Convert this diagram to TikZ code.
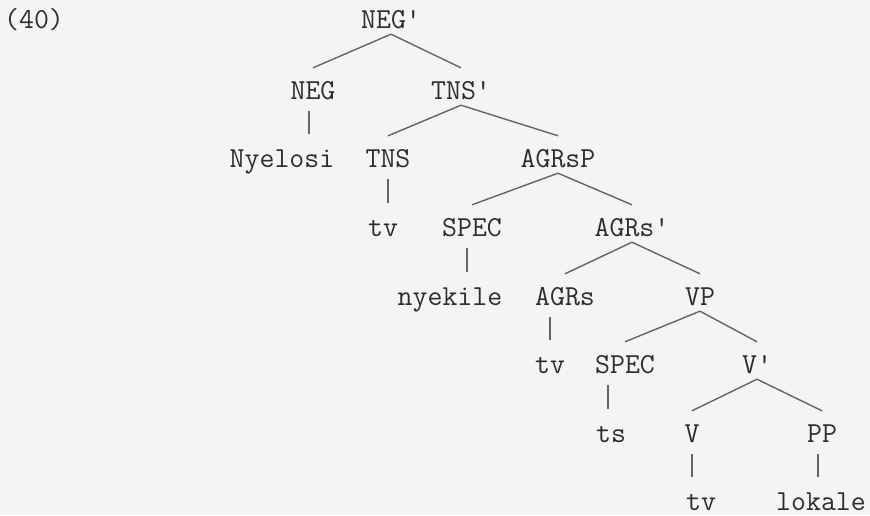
\documentclass[tikz,border=0pt]{standalone}
\usepackage{xcolor}
\usepackage{tikz}
\definecolor{paper}{RGB}{244,244,243}
\definecolor{ink}{RGB}{45,45,45}
\definecolor{branch}{RGB}{100,100,100}

\tikzset{
    cat/.style={anchor=base, inner sep=0pt, text height=31pt, text depth=6pt, text=ink,
        font=\fontsize{29}{30}\selectfont\ttfamily},
    edge/.style={draw=branch, line width=1.4pt},
    stem/.style={draw=branch, line width=1.4pt, shorten <=6pt, shorten >=2pt}
}

\begin{document}
\begin{tikzpicture}[x=1pt, y=-1pt]
    \fill[paper] (0,0) rectangle (870,515);
    \useasboundingbox (0,0) rectangle (870,515);

    % example number
    \node[cat] (num) at (34,28) {(40)};

    % tree nodes, one row at a time
    \node[cat] (negbar) at (391,28) {NEG'};

    \node[cat] (neg) at (313,99) {NEG};
    \node[cat] (tnsbar) at (461,99) {TNS'};

    \node[cat] (nyelosi) at (282,167) {Nyelosi};
    \node[cat] (tns) at (388,167) {TNS};
    \node[cat] (agrsp) at (558,167) {AGRsP};

    \node[cat] (tvA) at (383,236) {tv};
    \node[cat] (specA) at (472,236) {SPEC};
    \node[cat] (agrsbar) at (632,236) {AGRs'};

    \node[cat] (nyekile) at (450,305) {nyekile};
    \node[cat] (agrs) at (565,305) {AGRs};
    \node[cat] (vp) at (700,305) {VP};

    \node[cat] (tvB) at (550,373) {tv};
    \node[cat] (specB) at (625,373) {SPEC};
    \node[cat] (vbar) at (757,373) {V'};

    \node[cat] (ts) at (611,442) {ts};
    \node[cat] (v) at (692,442) {V};
    \node[cat] (pp) at (822,442) {PP};

    \node[cat] (tvC) at (701,510) {tv};
    \node[cat] (lokale) at (821,510) {lokale};

    % branches
    \draw[edge] (negbar.south) -- (neg.north);
    \draw[edge] (negbar.south) -- (tnsbar.north);
    \draw[edge] (tnsbar.south) -- (tns.north);
    \draw[edge] (tnsbar.south) -- (agrsp.north);
    \draw[edge] (agrsp.south) -- (specA.north);
    \draw[edge] (agrsp.south) -- (agrsbar.north);
    \draw[edge] (agrsbar.south) -- (agrs.north);
    \draw[edge] (agrsbar.south) -- (vp.north);
    \draw[edge] (vp.south) -- (specB.north);
    \draw[edge] (vp.south) -- (vbar.north);
    \draw[edge] (vbar.south) -- (v.north);
    \draw[edge] (vbar.south) -- (pp.north);

    % single daughters (straight down)
    \draw[stem] ([xshift=-4pt]neg.south) -- ([xshift=-4pt]neg.south |- nyelosi.north);
    \draw[stem] (tns.south) -- (tns.south |- tvA.north);
    \draw[stem] ([xshift=-5pt]specA.south) -- ([xshift=-5pt]specA.south |- nyekile.north);
    \draw[stem] (agrs.south -| tvB) -- (tvB.north);
    \draw[stem] ([xshift=-3pt]specB.south -| ts) -- ([xshift=-3pt]ts.north);
    \draw[stem] (v.south) -- (v.south |- tvC.north);
    \draw[stem] ([xshift=-4pt]pp.south) -- ([xshift=-4pt]pp.south |- lokale.north);
\end{tikzpicture}
\end{document}
